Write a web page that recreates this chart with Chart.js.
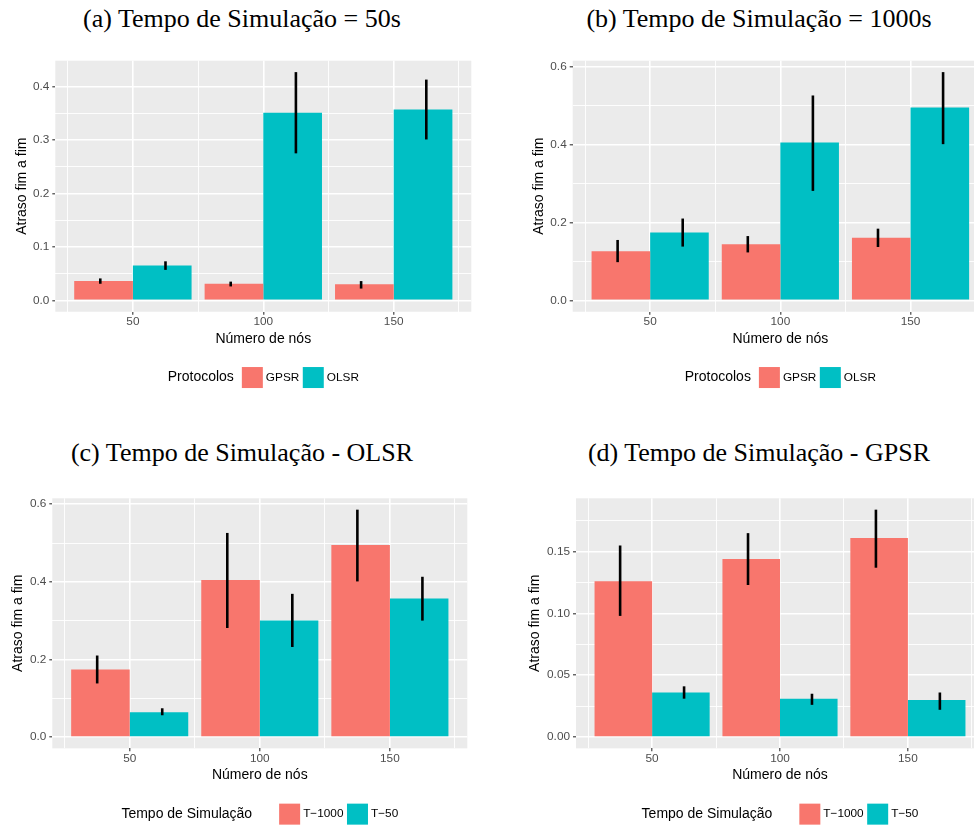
<!DOCTYPE html>
<html>
<head>
<meta charset="utf-8">
<script src="https://cdn.jsdelivr.net/npm/chart.js@4"></script>
<style>
html,body{margin:0;padding:0;background:#fff;}
body{width:974px;height:825px;overflow:hidden;position:relative;}
.titulo{position:absolute;width:484px;text-align:center;white-space:nowrap;
  font:26px/30px "Liberation Serif","Times New Roman",serif;color:#000;}
canvas{position:absolute;}
</style>
</head>
<body>
<div class="titulo" style="left:0;top:4px">(a) Tempo de Simulação = 50s</div>
<div class="titulo" style="left:517px;top:4px">(b) Tempo de Simulação = 1000s</div>
<div class="titulo" style="left:0;top:438px">(c) Tempo de Simulação - OLSR</div>
<div class="titulo" style="left:517px;top:438px">(d) Tempo de Simulação - GPSR</div>

<canvas id="g1" width="484" height="360" style="left:0;top:40px"></canvas>
<canvas id="g2" width="484" height="360" style="left:517px;top:40px"></canvas>
<canvas id="g3" width="484" height="347" style="left:0;top:478px"></canvas>
<canvas id="g4" width="484" height="347" style="left:517px;top:478px"></canvas>

<script>
// ===== DADOS =====
const nos = [50, 100, 150];
const rotulosX = ['50', '100', '150'];

// GPSR, 50 s  (a) e (d)
const gpsr50 = [0.036, 0.031, 0.030];
const gpsr50Inf = [0.031, 0.026, 0.022];
const gpsr50Sup = [0.041, 0.035, 0.036];
// OLSR, 50 s  (a)
const olsr50 = [0.065, 0.351, 0.357];
const olsr50Inf = [0.057, 0.275, 0.301];
const olsr50Sup = [0.073, 0.427, 0.413];
// GPSR, 1000 s  (b) e (d)
const gpsr1000 = [0.126, 0.144, 0.161];
const gpsr1000Inf = [0.098, 0.123, 0.137];
const gpsr1000Sup = [0.155, 0.165, 0.184];
// OLSR, 1000 s  (b) e (c)
const olsr1000 = [0.174, 0.405, 0.495];
const olsr1000Inf = [0.138, 0.281, 0.401];
const olsr1000Sup = [0.210, 0.526, 0.586];
// OLSR, 50 s  (c)
const olsrT50 = [0.064, 0.300, 0.357];
const olsrT50Inf = [0.056, 0.232, 0.300];
const olsrT50Sup = [0.074, 0.369, 0.413];

const ticksYa = [0, 0.1, 0.2, 0.3, 0.4];
const rotulosYa = ['0.0', '0.1', '0.2', '0.3', '0.4'];
const ticksYb = [0, 0.2, 0.4, 0.6];
const rotulosYb = ['0.0', '0.2', '0.4', '0.6'];
const ticksYd = [0, 0.05, 0.10, 0.15];
const rotulosYd = ['0.00', '0.05', '0.10', '0.15'];

const VERMELHO = '#F8766D', CIANO = '#00BFC4';
const fonte = '"Liberation Sans", Arial, sans-serif';
Chart.defaults.font.family = fonte;

// marcas principais + secundarias (meio caminho), como no ggplot
function marcas(maiores, s) {
  const passo = maiores[1] - maiores[0];
  const lista = maiores.map(v => ({ value: v }));
  for (let v = maiores[0] - passo / 2; v < s.max; v += passo)
    if (v > s.min) lista.push({ value: v, minor: true });
  return lista.sort((a, b) => a.value - b.value);
}

const grade = {
  color: '#FFFFFF',
  lineWidth: g => (g.tick && g.tick.minor ? 0.9 : 1.6),
  tickColor: g => (g.tick && g.tick.minor ? 'rgba(0,0,0,0)' : '#333333'),
  tickLength: 3,
  tickWidth: 1.1,
  offset: false
};

function grafico(id, c) {
  const series = c.series;
  const todos = series.flatMap(s => s.val.concat(s.inf, s.sup));
  const lo = Math.min(0, ...todos), hi = Math.max(...todos);
  const pad = (hi - lo) * 0.05;
  const meia = 22.5; // meia largura do grupo de barras
  const xlo = nos[0] - meia, xhi = nos[nos.length - 1] + meia;
  const xpad = (xhi - xlo) * 0.05;

  const fundo = {
    id: 'fundo',
    beforeDraw(ch) {
      const a = ch.chartArea, ctx = ch.ctx;
      ctx.save();
      ctx.fillStyle = '#EBEBEB';
      ctx.fillRect(a.left, a.top, a.right - a.left, a.bottom - a.top);
      ctx.restore();
    }
  };

  const erros = {
    id: 'erros',
    afterDatasetsDraw(ch) {
      const ctx = ch.ctx, xs = ch.scales.x, ys = ch.scales.y;
      ctx.save();
      ctx.strokeStyle = '#000';
      ctx.lineWidth = 2.6;
      series.forEach((s, k) => {
        const desl = (k - (series.length - 1) / 2) * 25;
        nos.forEach((n, i) => {
          const x = xs.getPixelForValue(n + desl);
          ctx.beginPath();
          ctx.moveTo(x, ys.getPixelForValue(s.inf[i]));
          ctx.lineTo(x, ys.getPixelForValue(s.sup[i]));
          ctx.stroke();
        });
      });
      ctx.restore();
    }
  };

  const legenda = {
    id: 'legendaGG',
    afterDraw(ch) {
      const ctx = ch.ctx, a = ch.chartArea;
      const caixa = 21, g1 = 3, g2 = 3.5;
      ctx.save();
      ctx.textBaseline = 'middle';
      ctx.font = '14px ' + fonte;
      const wTit = ctx.measureText(c.legTitulo).width;
      ctx.font = '11.8px ' + fonte;
      const ws = series.map(s => ctx.measureText(s.nome).width);
      let total = wTit + c.gapLeg;
      ws.forEach((w, k) => { total += caixa + g1 + w + (k ? g2 : 0); });
      let x = (a.left + a.right) / 2 - total / 2;
      const y = a.bottom + 65.8;
      ctx.fillStyle = '#000';
      ctx.font = '14px ' + fonte;
      ctx.fillText(c.legTitulo, x, y);
      x += wTit + c.gapLeg;
      series.forEach((s, k) => {
        if (k) x += g2;
        ctx.fillStyle = s.cor;
        ctx.fillRect(x, y - caixa / 2, caixa, caixa);
        x += caixa + g1;
        ctx.fillStyle = '#000';
        ctx.font = '11.8px ' + fonte;
        ctx.fillText(s.nome, x, y);
        x += ws[k];
      });
      ctx.restore();
    }
  };

  new Chart(document.getElementById(id), {
    type: 'bar',
    data: {
      datasets: series.map(s => ({
        label: s.nome,
        data: nos.map((n, i) => ({ x: n, y: s.val[i] })),
        backgroundColor: s.cor,
        borderWidth: 0,
        categoryPercentage: 1.8, // o passo minimo inclui as marcas secundarias (25)
        barPercentage: 1
      }))
    },
    options: {
      responsive: false,
      animation: false,
      layout: { padding: c.pad },
      plugins: { legend: { display: false }, tooltip: { enabled: false } },
      scales: {
        x: {
          type: 'linear',
          offset: false,
          min: xlo - xpad,
          max: xhi + xpad,
          afterBuildTicks: s => { s.ticks = marcas(nos, s); },
          ticks: {
            autoSkip: false, maxRotation: 0, color: '#4D4D4D', font: { size: 11.8 }, padding: 0,
            callback: (v, i, t) => (t[i].minor ? '' : rotulosX[nos.indexOf(v)])
          },
          grid: grade,
          border: { display: false },
          title: { display: true, text: 'Número de nós', color: '#000', font: { size: 14 }, padding: { top: 1.7, bottom: 0 } }
        },
        y: {
          min: lo - pad,
          max: hi + pad,
          afterBuildTicks: s => { s.ticks = marcas(c.ticksY, s); },
          afterFit: s => { s.width = c.largY; },
          ticks: {
            autoSkip: false, color: '#4D4D4D', font: { size: 11.8 }, padding: 3,
            callback: (v, i, t) => (t[i].minor ? '' : c.rotY[c.ticksY.indexOf(v)])
          },
          grid: grade,
          border: { display: false },
          title: { display: true, text: 'Atraso fim a fim', color: '#000', font: { size: 14 }, padding: { top: c.titY, bottom: 0 } }
        }
      }
    },
    plugins: [fundo, erros, legenda]
  });
}

/* (a) Tempo de Simulação = 50s */
grafico('g1', {
  series: [
    { nome: 'GPSR', cor: VERMELHO, val: gpsr50, inf: gpsr50Inf, sup: gpsr50Sup },
    { nome: 'OLSR', cor: CIANO, val: olsr50, inf: olsr50Inf, sup: olsr50Sup }
  ],
  ticksY: ticksYa, rotY: rotulosYa, legTitulo: 'Protocolos', gapLeg: 8,
  largY: 55.3, titY: 13.6, pad: { top: 20.7, bottom: 52.6, left: 0, right: 12.7 }
});

/* (b) Tempo de Simulação = 1000s */
grafico('g2', {
  series: [
    { nome: 'GPSR', cor: VERMELHO, val: gpsr1000, inf: gpsr1000Inf, sup: gpsr1000Sup },
    { nome: 'OLSR', cor: CIANO, val: olsr1000, inf: olsr1000Inf, sup: olsr1000Sup }
  ],
  ticksY: ticksYb, rotY: rotulosYb, legTitulo: 'Protocolos', gapLeg: 8,
  largY: 55.7, titY: 13.9, pad: { top: 20.7, bottom: 52.6, left: 0, right: 13 }
});

/* (c) Tempo de Simulação - OLSR */
grafico('g3', {
  series: [
    { nome: 'T\u22121000', cor: VERMELHO, val: olsr1000, inf: olsr1000Inf, sup: olsr1000Sup },
    { nome: 'T\u221250', cor: CIANO, val: olsrT50, inf: olsrT50Inf, sup: olsrT50Sup }
  ],
  ticksY: ticksYb, rotY: rotulosYb, legTitulo: 'Tempo de Simulação', gapLeg: 27,
  largY: 52.3, titY: 9.9, pad: { top: 20.3, bottom: 41, left: 0, right: 16.7 }
});

/* (d) Tempo de Simulação - GPSR */
grafico('g4', {
  series: [
    { nome: 'T\u22121000', cor: VERMELHO, val: gpsr1000, inf: gpsr1000Inf, sup: gpsr1000Sup },
    { nome: 'T\u221250', cor: CIANO, val: gpsr50, inf: gpsr50Inf, sup: gpsr50Sup }
  ],
  ticksY: ticksYd, rotY: rotulosYd, legTitulo: 'Tempo de Simulação', gapLeg: 27,
  largY: 59, titY: 9.6, pad: { top: 20.3, bottom: 41, left: 0, right: 17 }
});
</script>
</body>
</html>
